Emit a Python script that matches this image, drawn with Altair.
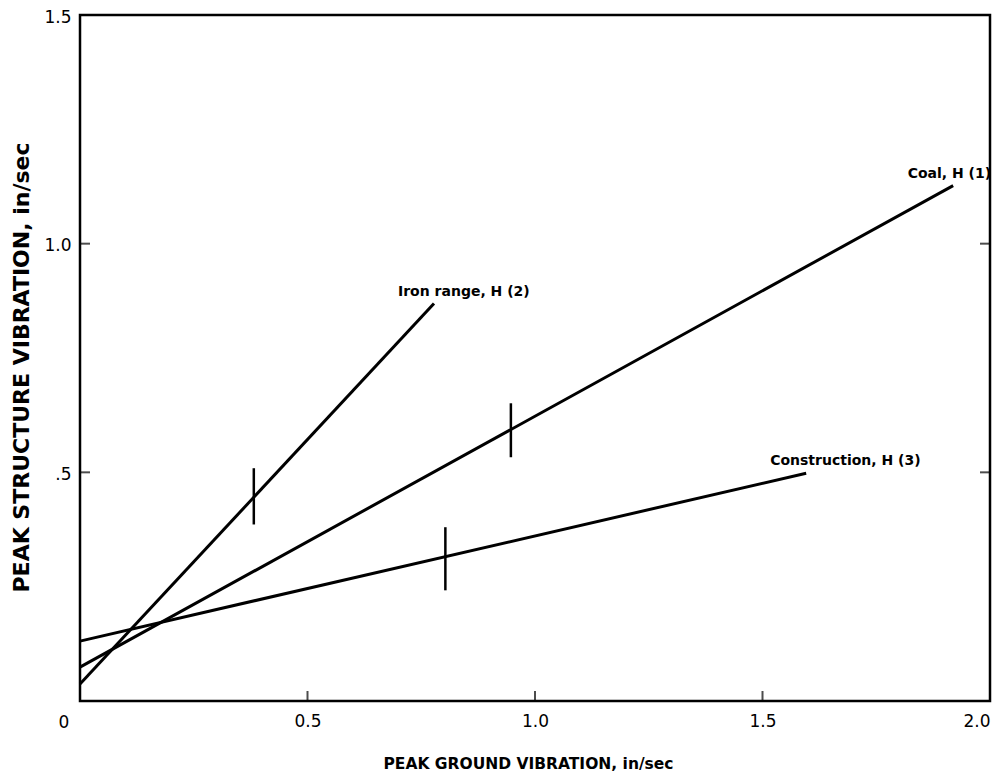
import altair as alt
import pandas as pd

# ---- data ----
series = ["Coal, H (1)", "Iron range, H (2)", "Construction, H (3)"]
x_start = [0.0, 0.0, 0.0]
y_start = [0.074, 0.037, 0.131]
x_end = [1.919, 0.778, 1.596]
y_end = [1.127, 0.869, 0.498]

bar_x = [0.947, 0.382, 0.803]
bar_lo = [0.533, 0.386, 0.242]
bar_hi = [0.651, 0.509, 0.380]

x_tick_values = [0.0, 0.5, 1.0, 1.5, 2.0]
y_tick_values = [0.5, 1.0, 1.5]
bottom_ticks = [0.5, 1.0, 1.5]
left_ticks = [0.5, 1.0]
right_ticks = [0.5, 1.0]
origin_label = ["0"]

lines = pd.DataFrame({"series": series, "x0": x_start, "y0": y_start,
                      "x1": x_end, "y1": y_end})
bars = pd.DataFrame({"series": series, "bx": bar_x, "lo": bar_lo, "hi": bar_hi})

FONT = "DejaVu Sans"
xscale = alt.Scale(domain=[0, 2], nice=False, zero=False)
yscale = alt.Scale(domain=[0, 1.5], nice=False, zero=False)

xaxis = alt.Axis(values=x_tick_values,
                 labelExpr="datum.value == 0 ? '' : format(datum.value, '.1f')",
                 ticks=False, domain=False, grid=False,
                 labelFontSize=17, labelPadding=12, labelColor="black", labelFont=FONT,
                 title="PEAK GROUND VIBRATION, in/sec", titleFontSize=15.5,
                 titleFont=FONT, titleFontWeight="bold", titleColor="black",
                 titlePadding=27, titleX=448)
yaxis = alt.Axis(values=y_tick_values,
                 labelExpr="datum.value == 0.5 ? '.5' : format(datum.value, '.1f')",
                 ticks=False, domain=False, grid=False,
                 labelFontSize=17, labelPadding=9, labelOffset=2,
                 labelColor="black", labelFont=FONT,
                 title="PEAK    STRUCTURE    VIBRATION,    in/sec", titleFontSize=22,
                 titleFont=FONT, titleFontWeight="bold", titleColor="black",
                 titlePadding=10, titleY=352)

line_layer = alt.Chart(lines).mark_rule(color="black", strokeWidth=3).encode(
    x=alt.X("x0:Q", scale=xscale, axis=xaxis),
    y=alt.Y("y0:Q", scale=yscale, axis=yaxis),
    x2="x1:Q", y2="y1:Q")

bar_layer = alt.Chart(bars).mark_rule(color="black", strokeWidth=2.5).encode(
    x="bx:Q", y="lo:Q", y2="hi:Q")

label_style = dict(baseline="middle", dy=-12, font=FONT, fontSize=14,
                   fontWeight="bold", color="black")
label_left = alt.Chart(lines).transform_filter(
    alt.datum.series != series[0]).mark_text(align="left", dx=-36, **label_style).encode(
    x="x1:Q", y="y1:Q", text="series:N")
label_right = alt.Chart(lines).transform_filter(
    alt.datum.series == series[0]).mark_text(align="right", dx=38, **label_style).encode(
    x="x1:Q", y="y1:Q", text="series:N")

bt = alt.Chart(pd.DataFrame({"v": bottom_ticks})).mark_tick(
    orient="vertical", size=10, thickness=2, yOffset=-5, color="black").encode(
    x="v:Q", y=alt.datum(0))
lt = alt.Chart(pd.DataFrame({"v": left_ticks})).mark_tick(
    orient="horizontal", size=10, thickness=2, xOffset=5, color="black").encode(
    y="v:Q", x=alt.datum(0))
rt = alt.Chart(pd.DataFrame({"v": right_ticks})).mark_tick(
    orient="horizontal", size=10, thickness=2, xOffset=-5, color="black").encode(
    y="v:Q", x=alt.datum(2.0))

origin = alt.Chart(pd.DataFrame({"t": origin_label})).mark_text(
    font=FONT, fontSize=17, dx=-16, dy=22, color="black").encode(
    x=alt.datum(0), y=alt.datum(0), text="t:N")

chart = alt.layer(line_layer, bar_layer, label_left, label_right, bt, lt, rt,
                  origin).properties(
    width=910, height=686,
    background="white",
    autosize=alt.AutoSizeParams(type="none"),
    padding={"left": 72, "top": 7, "right": 6, "bottom": 72},
).configure_view(stroke="black", strokeWidth=2.5)

chart.save("out.html", embed_options={"renderer": "svg", "actions": False})
